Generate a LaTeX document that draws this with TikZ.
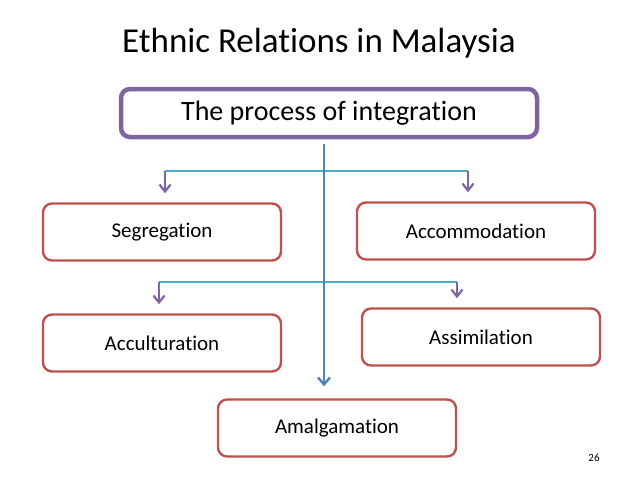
\documentclass[tikz,border=0pt]{standalone}
\usepackage{fontspec}
\setmainfont{Carlito}[Ligatures=NoCommon]
\usetikzlibrary{arrows.meta}
\definecolor{tim}{HTML}{8064A2}
\definecolor{do}{HTML}{C0504D}
\definecolor{xanh}{HTML}{4F81BD}
\definecolor{lam}{HTML}{4BACC6}
\begin{document}
\begin{tikzpicture}[x=1pt,y=-1pt,
    hop/.style={draw=do,line width=2.4pt,rounded corners=9pt,fill=white,
        minimum width=238pt,minimum height=57pt,inner sep=0pt,
        font=\fontsize{21}{24}\selectfont},
    muiten/.style={-{Straight Barb[length=7pt,width=11pt,line width=2.2pt]},tim,line width=2.6pt}]
    % Khung nền
    \useasboundingbox[fill=white] (0,0) rectangle (638,479);
    
    % Tiêu đề
    \node (tieude) at (319,43) {\fontsize{35}{38}\selectfont Ethnic Relations in Malaysia};
    
    % Ô trên cùng
    \node[draw=tim,line width=4.5pt,rounded corners=9pt,minimum width=416pt,minimum height=48pt,
        font=\fontsize{28}{32}\selectfont] (quatrinh) at (329,113) {The process of integration};
    
    % Các ô
    \node[hop] (seg) at (162,232) {Segregation};
    \node[hop] (acc) at (476,231) {Accommodation};
    \node[hop] (acu) at (162,343) {Acculturation};
    \node[hop] (asi) at (481,337) {Assimilation};
    \node[hop] (ama) at (337,428) {Amalgamation};
    
    % Số trang
    \node[font=\fontsize{11}{13}\selectfont] (trang) at (594,458) {26};
    
    % Đường nối ngang
    \coordinate (a1) at (165,171);
    \coordinate (b1) at (468,171);
    \coordinate (a2) at (159,282);
    \coordinate (b2) at (457,282);
    \draw[lam,line width=1.8pt] (a1) -- (b1);
    \draw[lam,line width=1.8pt] (a2) -- (b2);
    
    % Mũi tên tím
    \foreach \p/\q in {a1/seg,b1/acc,a2/acu,b2/asi}
    \draw[muiten,shorten >=9pt] (\p) -- (\p |- \q.north);
    
    % Trục dọc
    \coordinate (c) at (324,0);
    \draw[xanh,line width=2.8pt,shorten <=5pt,shorten >=12pt,
        -{Straight Barb[length=7pt,width=12pt,line width=2.4pt]}]
        (c |- quatrinh.south) -- (c |- ama.north);
\end{tikzpicture}
\end{document}
